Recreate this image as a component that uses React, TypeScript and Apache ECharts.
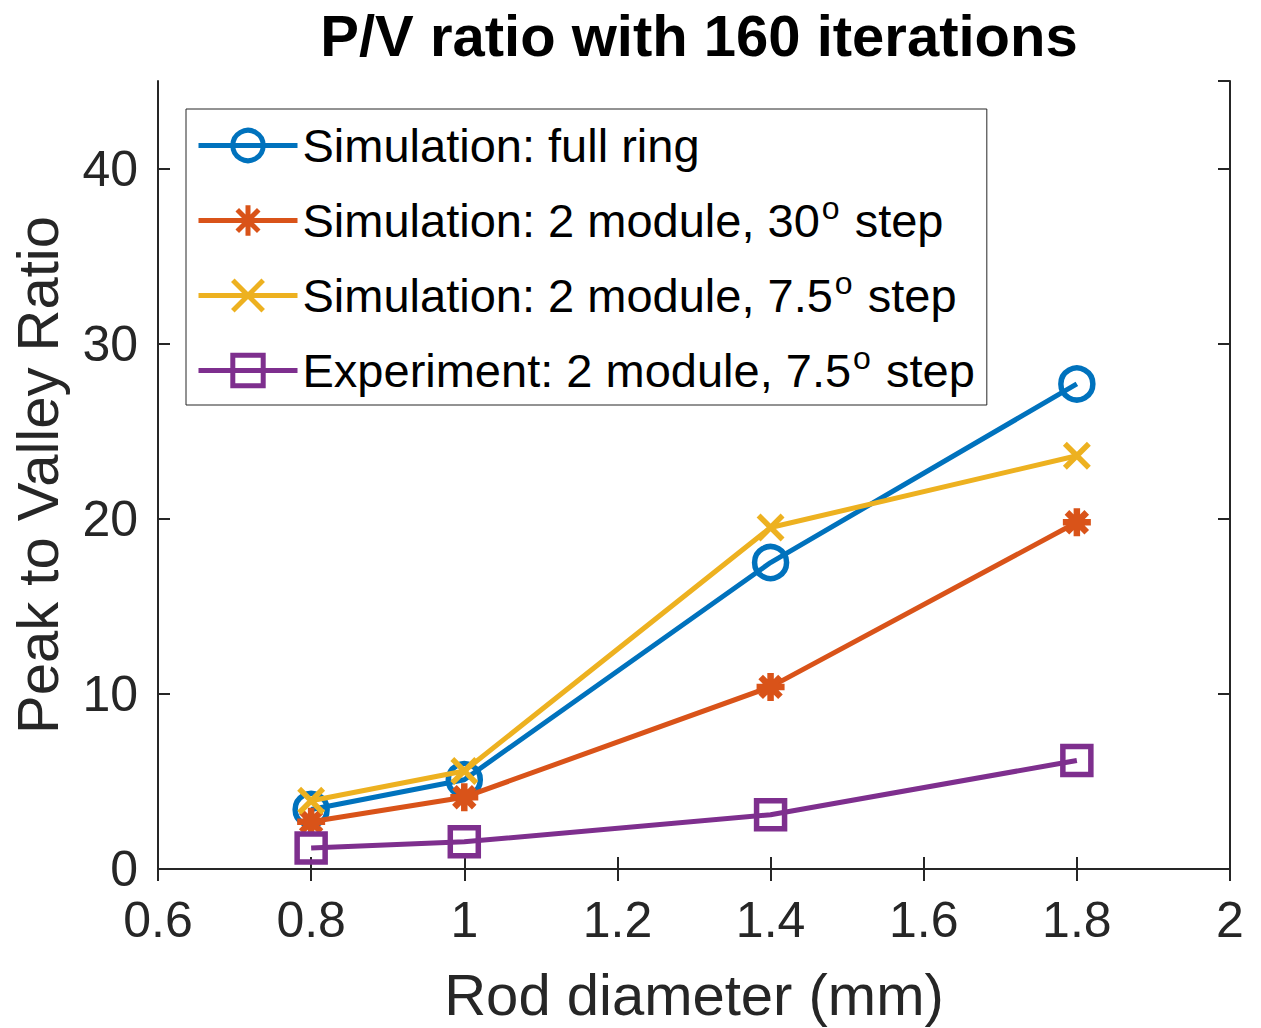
import React, { useEffect, useRef } from 'react';
import * as echarts from 'echarts';

const xValues = [0.8, 1.0, 1.4, 1.8];
const seriesNames = [
  'Simulation: full ring',
  'Simulation: 2 module, 30° step',
  'Simulation: 2 module, 7.5° step',
  'Experiment: 2 module, 7.5° step',
];
const fullRing = [3.4, 5.1, 17.5, 27.7];
const module30 = [2.7, 4.1, 10.4, 19.8];
const module75 = [3.9, 5.6, 19.5, 23.6];
const experiment = [1.2, 1.55, 3.1, 6.2];
const seriesValues = [fullRing, module30, module75, experiment];
const colors = ['#0072BD', '#D95319', '#EDB120', '#7E2F8E'];
const symbols = [
  'circle',
  'path://M0,-10L0,10M-10,0L10,0M-7.07,-7.07L7.07,7.07M-7.07,7.07L7.07,-7.07',
  'path://M-10,-10L10,10M-10,10L10,-10',
  'rect',
];
const symbolSizes = [32, 28, 24, 28];

const titleText = 'P/V ratio with 160 iterations';
const xName = 'Rod diameter (mm)';
const yName = 'Peak to Valley Ratio';

const FONT = '"Liberation Sans", Arial, Helvetica, sans-serif';
const AX = '#262626';

export default function App() {
  const ref = useRef<HTMLDivElement>(null);
  useEffect(() => {
    if (!ref.current) return;
    const chart = echarts.init(ref.current, undefined, { renderer: 'svg' });
    const fmtX = (v: number) => String(Math.round(v * 10) / 10);
    const axisCommon = {
      axisLine: { show: true, lineStyle: { color: AX, width: 2 } },
      axisTick: { show: true, inside: true, length: 12, lineStyle: { color: AX, width: 2 } },
      splitLine: { show: false },
    };
    chart.setOption({
      animation: false,
      backgroundColor: '#ffffff',
      title: {
        text: titleText,
        left: 694,
        top: 1,
        textAlign: 'center',
        textStyle: { fontFamily: FONT, fontSize: 58, fontWeight: 'bold', color: '#000' },
      },
      grid: { left: 158, right: 31, top: 81, bottom: 159, containLabel: false },
      legend: {
        orient: 'vertical',
        left: 186,
        top: 109,
        padding: [8, 12, 6, 10],
        itemGap: 18,
        itemWidth: 99,
        itemHeight: 38,
        backgroundColor: '#fff',
        borderColor: AX,
        borderWidth: 1,
        data: seriesNames,
        lineStyle: { width: 5 },
        itemStyle: { borderWidth: 5 },
        formatter: (name: string) => name.replace('°', '{sup|o}'),
        textStyle: {
          fontFamily: FONT,
          fontSize: 47,
          color: '#000',
          lineHeight: 57,
          rich: {
            sup: {
              fontFamily: FONT,
              fontSize: 32,
              color: '#000',
              verticalAlign: 'top',
              lineHeight: 30,
              padding: [0, 2, 0, 2],
            },
          },
        },
      },
      xAxis: [
        {
          type: 'value',
          min: 0.6,
          max: 2,
          interval: 0.2,
          position: 'bottom',
          name: xName,
          nameLocation: 'middle',
          nameGap: 96,
          nameTextStyle: { fontFamily: FONT, fontSize: 58, color: AX },
          axisLabel: {
            show: true,
            margin: 26,
            fontFamily: FONT,
            fontSize: 50,
            color: AX,
            formatter: fmtX,
          },
          ...axisCommon,
        },
        {
          type: 'value',
          min: 0.6,
          max: 2,
          interval: 0.2,
          position: 'top',
          axisLabel: { show: false },
          ...axisCommon,
        },
      ],
      yAxis: [
        {
          type: 'value',
          min: 0,
          max: 45,
          interval: 10,
          position: 'left',
          name: yName,
          nameLocation: 'middle',
          nameGap: 92,
          nameTextStyle: { fontFamily: FONT, fontSize: 58, color: AX },
          axisLabel: {
            show: true,
            margin: 20,
            fontFamily: FONT,
            fontSize: 50,
            color: AX,
            showMaxLabel: false,
            formatter: (v: number) => (v > 40 ? '' : String(v)),
          },
          ...axisCommon,
        },
        {
          type: 'value',
          min: 0,
          max: 45,
          interval: 10,
          position: 'right',
          axisLabel: { show: false },
          ...axisCommon,
        },
      ],
      series: seriesNames.map((name, i) => ({
        name,
        type: 'line',
        xAxisIndex: 0,
        yAxisIndex: 0,
        data: xValues.map((x, j) => [x, seriesValues[i][j]]),
        symbol: symbols[i],
        symbolSize: symbolSizes[i],
        showAllSymbol: true,
        lineStyle: { color: colors[i], width: 5 },
        itemStyle: { color: 'rgba(255,255,255,0)', borderColor: colors[i], borderWidth: i === 1 ? 6.5 : 5.5 },
        emphasis: { disabled: true },
        z: 2 + i,
      })),
    });
    return () => chart.dispose();
  }, []);
  return (
    <div
      ref={ref}
      style={{ position: 'absolute', left: 0, top: 0, width: 1261, height: 1028 }}
    />
  );
}
